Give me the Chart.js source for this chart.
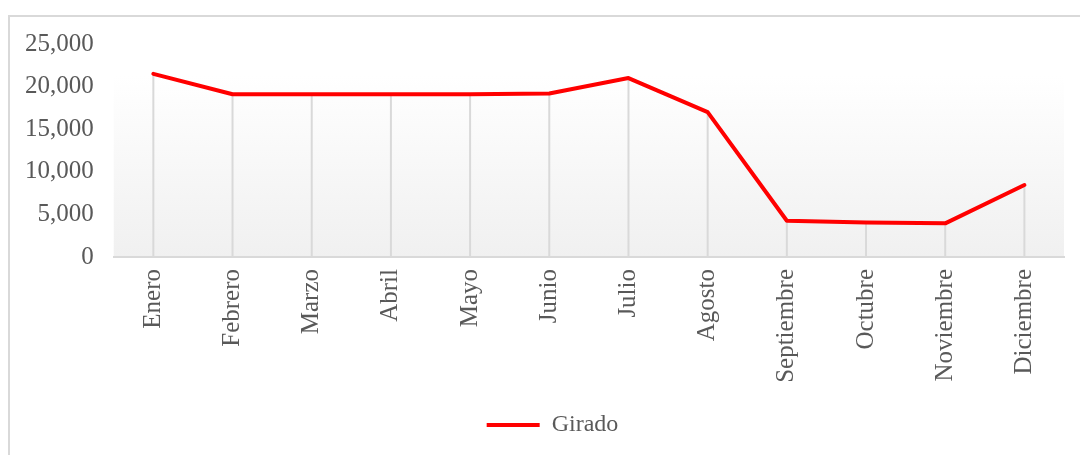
<!DOCTYPE html>
<html>
<head>
<meta charset="utf-8">
<script src="https://cdn.jsdelivr.net/npm/chart.js@4.4.1/dist/chart.umd.min.js"></script>
<style>
    html, body { margin: 0; padding: 0; background: #ffffff; overflow: hidden; }
    #frame {
        position: absolute; left: 8px; top: 15px; width: 1100px; height: 460px;
        border-left: 2px solid #d9d9d9; border-top: 2px solid #d9d9d9;
    }
    #girado { position: absolute; left: 0; top: 0; }
</style>
</head>
<body>
<div id="frame"></div>
<canvas id="girado" width="1080" height="455"></canvas>
<script>
var meses = ['Enero', 'Febrero', 'Marzo', 'Abril', 'Mayo', 'Junio', 'Julio', 'Agosto', 'Septiembre', 'Octubre', 'Noviembre', 'Diciembre'];
var girado = [21500, 19100, 19100, 19100, 19100, 19200, 21000, 17000, 4250, 4050, 3950, 8450];
var yTicks = { min: 0, max: 25000, step: 5000 };

var serif = '"Liberation Serif", "Times New Roman", serif';
var textGray = '#595959';
var lineGray = '#d9d9d9';

// plot area fill, white at the top fading to light gray
var plotBackground = {
    id: 'plotBackground',
    beforeDraw: function(chart) {
        var a = chart.chartArea;
        var ctx = chart.ctx;
        var grad = ctx.createLinearGradient(0, a.top, 0, a.bottom);
        grad.addColorStop(0, '#ffffff');
        grad.addColorStop(0.15, '#ffffff');
        grad.addColorStop(1, '#f0f0f0');
        ctx.save();
        ctx.fillStyle = grad;
        ctx.fillRect(a.left, a.top, a.right - a.left, a.bottom - a.top);
        ctx.restore();
    }
};

// excel style drop lines, from each point down to the axis
var dropLines = {
    id: 'dropLines',
    beforeDatasetsDraw: function(chart) {
        var meta = chart.getDatasetMeta(0);
        var ctx = chart.ctx;
        ctx.save();
        ctx.strokeStyle = lineGray;
        ctx.lineWidth = 2;
        meta.data.forEach(function(pt) {
            ctx.beginPath();
            ctx.moveTo(pt.x, pt.y);
            ctx.lineTo(pt.x, chart.chartArea.bottom);
            ctx.stroke();
        });
        ctx.restore();
    }
};

// legend sits a bit to the right, centred on the whole frame
var legendShift = {
    id: 'legendShift',
    afterLayout: function(chart) {
        chart.legend.left += 18;
        chart.legend.right += 18;
    }
};

new Chart(document.getElementById('girado').getContext('2d'), {
    type: 'line',
    data: {
        labels: meses,
        datasets: [{
            label: 'Girado',
            data: girado,
            borderColor: '#ff0000',
            backgroundColor: '#ff0000',
            borderWidth: 4,
            borderCapStyle: 'round',
            borderJoinStyle: 'round',
            pointRadius: 0,
            pointHoverRadius: 0,
            tension: 0,
            fill: false
        }]
    },
    options: {
        responsive: false,
        animation: false,
        locale: 'en-US',
        layout: { padding: { left: 5, top: 44, right: 16, bottom: 8 } },
        plugins: {
            tooltip: { enabled: false },
            legend: {
                position: 'bottom',
                labels: {
                    usePointStyle: true,
                    pointStyle: 'line',
                    pointStyleWidth: 53,
                    boxHeight: 4,
                    color: textGray,
                    font: { family: serif, size: 24 },
                    padding: 10
                }
            }
        },
        scales: {
            x: {
                offset: true,
                grid: { display: false, drawTicks: false },
                border: { display: true, color: lineGray, width: 2 },
                ticks: {
                    color: textGray,
                    font: { family: serif, size: 25 },
                    minRotation: 90,
                    maxRotation: 90,
                    padding: 12,
                    autoSkip: false
                },
                afterFit: function(scale) { scale.height = 146; }
            },
            y: {
                min: yTicks.min,
                max: yTicks.max,
                grid: { display: false, drawTicks: false },
                border: { display: false },
                ticks: {
                    stepSize: yTicks.step,
                    color: textGray,
                    font: { family: serif, size: 25 },
                    padding: 20
                }
            }
        }
    },
    plugins: [plotBackground, dropLines, legendShift]
});
</script>
</body>
</html>
